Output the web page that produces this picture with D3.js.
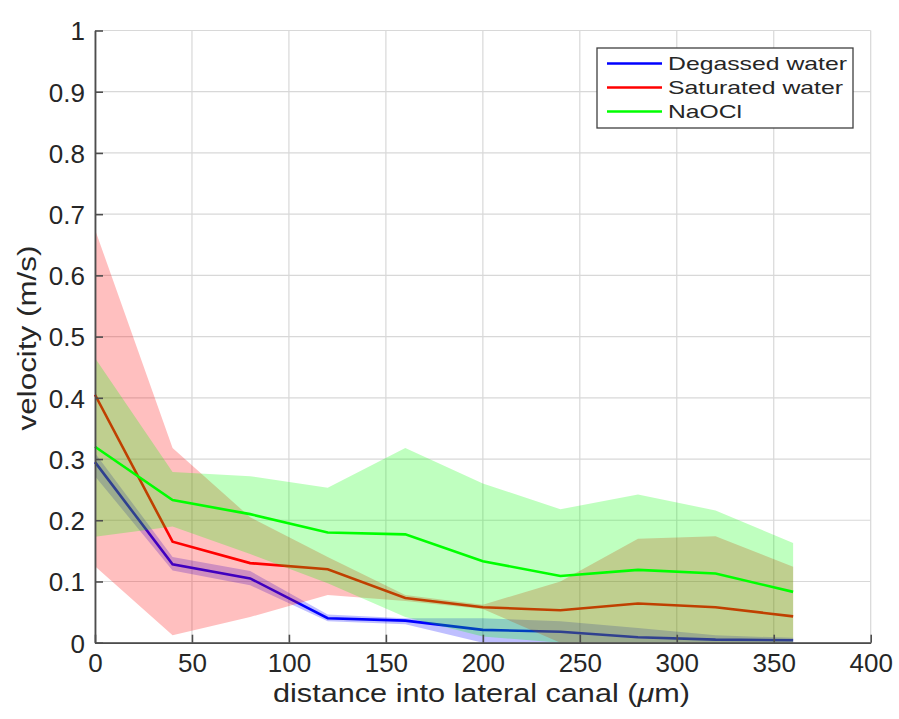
<!DOCTYPE html>
<html>
<head>
<meta charset="utf-8">
<title>velocity vs distance</title>
<style>
  body { margin: 0; background: #fff; }
  svg text { font-family: "Liberation Sans", Arial, Helvetica, sans-serif; fill: #262626; }
</style>
</head>
<body>
<svg width="899" height="719"></svg>
<script src="https://d3js.org/d3.v7.min.js"></script>
<script>
// distance into lateral canal (um)
var distance = [0, 40, 80, 120, 160, 200, 240, 280, 320, 360];

// degassed water
var degMean  = [0.295, 0.128, 0.105, 0.040, 0.036, 0.021, 0.018, 0.009, 0.005, 0.004];
var degUpper = [0.310, 0.140, 0.117, 0.046, 0.040, 0.040, 0.035, 0.024, 0.012, 0.008];
var degLower = [0.272, 0.118, 0.094, 0.035, 0.030, 0.000, 0.000, 0.000, 0.000, 0.000];

// saturated water
var satMean  = [0.405, 0.165, 0.130, 0.120, 0.073, 0.058, 0.053, 0.064, 0.058, 0.043];
var satUpper = [0.675, 0.318, 0.205, 0.140, 0.078, 0.062, 0.100, 0.170, 0.174, 0.124];
var satLower = [0.125, 0.012, 0.042, 0.078, 0.068, 0.055, 0.000, 0.000, 0.000, 0.000];

// NaOCl
var naoMean  = [0.320, 0.233, 0.210, 0.180, 0.177, 0.133, 0.109, 0.119, 0.113, 0.083];
var naoUpper = [0.465, 0.279, 0.272, 0.253, 0.318, 0.260, 0.218, 0.242, 0.216, 0.163];
var naoLower = [0.173, 0.190, 0.145, 0.097, 0.042, 0.010, 0.000, 0.000, 0.000, 0.000];

var xTicks = [0, 50, 100, 150, 200, 250, 300, 350, 400];
var yTicks = [0, 0.1, 0.2, 0.3, 0.4, 0.5, 0.6, 0.7, 0.8, 0.9, 1];

var series = [
  {name: "Degassed water",  color: "#0000ff", mean: degMean, upper: degUpper, lower: degLower},
  {name: "Saturated water", color: "#ff0000", mean: satMean, upper: satUpper, lower: satLower},
  {name: "NaOCl",           color: "#00ff00", mean: naoMean, upper: naoUpper, lower: naoLower}
];
// measured legend label widths (the picture's text is a bit wide)
var legendWidths = [179, 175, 74];

var svg = d3.select("svg");
var x = d3.scaleLinear().domain([0, 400]).range([95, 870.7]);
var y = d3.scaleLinear().domain([0, 1]).range([642.7, 30.5]);

// grid
svg.append("g").selectAll("line").data(xTicks).enter().append("line")
    .attr("x1", function(d) { return x(d); }).attr("x2", function(d) { return x(d); })
    .attr("y1", y(0)).attr("y2", y(1))
    .attr("stroke", "#d8d8d8").attr("stroke-width", 1.2);
svg.append("g").selectAll("line").data(yTicks).enter().append("line")
    .attr("y1", function(d) { return y(d); }).attr("y2", function(d) { return y(d); })
    .attr("x1", x(0)).attr("x2", x(400))
    .attr("stroke", "#d8d8d8").attr("stroke-width", 1.2);

var area = d3.area()
    .x(function(d, i) { return x(distance[i]); })
    .y0(function(d) { return y(d[0]); })
    .y1(function(d) { return y(d[1]); });
var line = d3.line()
    .x(function(d, i) { return x(distance[i]); })
    .y(function(d) { return y(d); });

// band then line, series by series (later bands cover earlier lines)
series.forEach(function(s) {
  svg.append("path")
      .datum(s.lower.map(function(v, i) { return [v, s.upper[i]]; }))
      .attr("d", area)
      .attr("fill", s.color)
      .attr("fill-opacity", 0.25)
      .attr("stroke", "none");
  svg.append("path")
      .datum(s.mean)
      .attr("d", line)
      .attr("fill", "none")
      .attr("stroke", s.color)
      .attr("stroke-width", 2.6);
});

// axes, ticks inward like matlab
var xAxis = svg.append("g")
    .attr("transform", "translate(0," + y(0) + ")")
    .call(d3.axisBottom(x).tickValues(xTicks).tickSize(-8).tickPadding(11).tickSizeOuter(0)
      .tickFormat(d3.format("d")));
var yAxis = svg.append("g")
    .attr("transform", "translate(" + x(0) + ",0)")
    .call(d3.axisLeft(y).tickValues(yTicks).tickSize(-8).tickPadding(10).tickSizeOuter(0)
      .tickFormat(function(d) { return d === 0 || d === 1 ? d : d3.format(".1f")(d); }));
[xAxis, yAxis].forEach(function(a) {
  a.select(".domain").attr("stroke", "#4d4d4d").attr("stroke-width", 1.8);
  a.selectAll(".tick line").attr("stroke", "#4d4d4d").attr("stroke-width", 1.6);
  a.selectAll(".tick text").attr("font-size", 26).attr("fill", "#262626")
    .style("font-family", "Liberation Sans, Arial, sans-serif");
});
yAxis.selectAll(".tick text").attr("dy", "0.36em");

// axis titles
var xt = svg.append("text")
    .attr("x", 273).attr("y", 702)
    .attr("font-size", 26)
    .attr("textLength", 417)
    .attr("lengthAdjust", "spacingAndGlyphs");
xt.append("tspan").text("distance into lateral canal (");
xt.append("tspan").attr("font-style", "italic").text("\u03bc");
xt.append("tspan").text("m)");

svg.append("text")
    .attr("transform", "translate(36,338) rotate(-90)")
    .attr("text-anchor", "middle")
    .attr("font-size", 25)
    .attr("textLength", 185)
    .attr("lengthAdjust", "spacingAndGlyphs")
    .text("velocity (m/s)");

// legend
var leg = svg.append("g").attr("transform", "translate(597,48)");
leg.append("rect")
    .attr("width", 256).attr("height", 80)
    .attr("fill", "#fff").attr("stroke", "#404040").attr("stroke-width", 1.3);
series.forEach(function(s, i) {
  var yy = 15.5 + i * 24;
  leg.append("line")
      .attr("x1", 10).attr("x2", 65).attr("y1", yy).attr("y2", yy)
      .attr("stroke", s.color).attr("stroke-width", 2.6);
  leg.append("text")
      .attr("x", 71).attr("y", yy).attr("dy", "0.36em")
      .attr("font-size", 19)
      .attr("textLength", legendWidths[i])
      .attr("lengthAdjust", "spacingAndGlyphs")
      .attr("fill", "#000")
      .text(s.name);
});
</script>
</body>
</html>
